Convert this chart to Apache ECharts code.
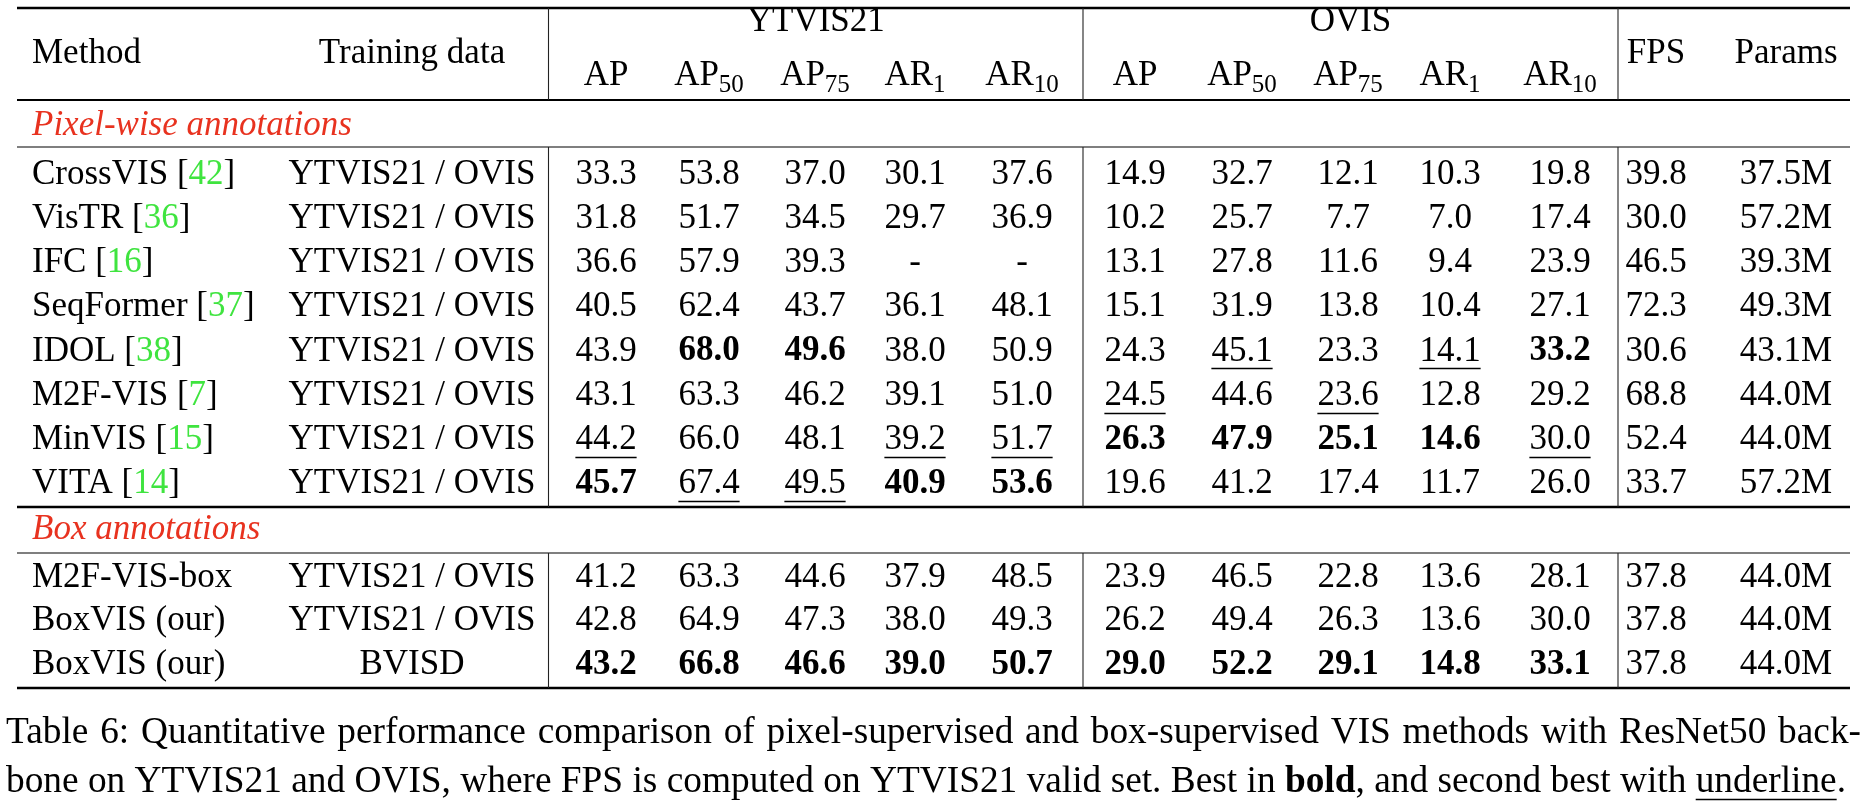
<!DOCTYPE html>
<html><head><meta charset="utf-8">
<script src="https://cdn.jsdelivr.net/npm/echarts@6/dist/echarts.min.js"></script>
<style>html,body{margin:0;padding:0;background:#fff}#c{width:1870px;height:808px}</style>
</head><body><div id="c"></div><script>
// ---------------- data ----------------
const methods = ['CrossVIS','VisTR','IFC','SeqFormer','IDOL','M2F-VIS','MinVIS','VITA','M2F-VIS-box','BoxVIS (our)','BoxVIS (our)'];
const citations = ['42','36','16','37','38','7','15','14',null,null,null];
const trainingData = ['YTVIS21 / OVIS','YTVIS21 / OVIS','YTVIS21 / OVIS','YTVIS21 / OVIS','YTVIS21 / OVIS','YTVIS21 / OVIS','YTVIS21 / OVIS','YTVIS21 / OVIS','YTVIS21 / OVIS','YTVIS21 / OVIS','BVISD'];
const groupTitles = ['Pixel-wise annotations','Box annotations'];
const groupRows = [[0,1,2,3,4,5,6,7],[8,9,10]];
const datasets = ['YTVIS21','OVIS'];
const metricLabels = [['AP',''],['AP','50'],['AP','75'],['AR','1'],['AR','10']];
const ytvisAP   = [33.3,31.8,36.6,40.5,43.9,43.1,44.2,45.7,41.2,42.8,43.2];
const ytvisAP50 = [53.8,51.7,57.9,62.4,68.0,63.3,66.0,67.4,63.3,64.9,66.8];
const ytvisAP75 = [37.0,34.5,39.3,43.7,49.6,46.2,48.1,49.5,44.6,47.3,46.6];
const ytvisAR1  = [30.1,29.7,null,36.1,38.0,39.1,39.2,40.9,37.9,38.0,39.0];
const ytvisAR10 = [37.6,36.9,null,48.1,50.9,51.0,51.7,53.6,48.5,49.3,50.7];
const ovisAP    = [14.9,10.2,13.1,15.1,24.3,24.5,26.3,19.6,23.9,26.2,29.0];
const ovisAP50  = [32.7,25.7,27.8,31.9,45.1,44.6,47.9,41.2,46.5,49.4,52.2];
const ovisAP75  = [12.1,7.7,11.6,13.8,23.3,23.6,25.1,17.4,22.8,26.3,29.1];
const ovisAR1   = [10.3,7.0,9.4,10.4,14.1,12.8,14.6,11.7,13.6,13.6,14.8];
const ovisAR10  = [19.8,17.4,23.9,27.1,33.2,29.2,30.0,26.0,28.1,30.0,33.1];
const fps       = [39.8,30.0,46.5,72.3,30.6,68.8,52.4,33.7,37.8,37.8,37.8];
const paramsM   = [37.5,57.2,39.3,49.3,43.1,44.0,44.0,57.2,44.0,44.0,44.0];
const boxBoldRow = 10; // BoxVIS trained on BVISD: marked bold in every metric
const captionLine1 = 'Table 6: Quantitative performance comparison of pixel-supervised and box-supervised VIS methods with ResNet50 back-';
const captionLine2 = 'bone on YTVIS21 and OVIS, where FPS is computed on YTVIS21 valid set. Best in **bold**, and second best with __underline__.';

// ---------------- layout ----------------
const FONT = "'Liberation Serif','Times New Roman',serif";
const FS = 35, SUBFS = 25;
const L = {
  blocks: [{top: 152.2, rowH: 44.25}, {top: 555.8, rowH: 43.5}],
  secY: [125.6, 529.5],
  left: 17, right: 1850,
  methodX: 32, trainX: 412,
  colX: [606,709,815,915,1022, 1135,1242,1348,1450,1560, 1656,1786],
  vlines: [548.5,1083,1618],
  topRule: 8, headRule: 100, secLine1: 147, thickMid: 507, secLine2: 553, bottom: 688,
  hdr1Y: 22, hdrMidY: 54, hdr2Y: 76,
  capY: [733,782], capLeft: 6, capRight1: 1861, capRight2: 1846
};
const GREEN = '#3fe43f', RED = '#e8321f';

const ctx = document.createElement('canvas').getContext('2d');
function tw(text, size, weight, style){ ctx.font = (style||'normal')+' '+(weight||'normal')+' '+size+'px '+FONT; return ctx.measureText(text).width; }

// emphasis: within pixel group best bold / second underline; box group: boxBoldRow bold
const metricCols = [ytvisAP,ytvisAP50,ytvisAP75,ytvisAR1,ytvisAR10,ovisAP,ovisAP50,ovisAP75,ovisAR1,ovisAR10];
function emphasis(col, i){
  if (groupRows[1].includes(i)) return i === boxBoldRow ? 'bold' : null;
  const vals = groupRows[0].map(r => col[r]).filter(v => v != null).sort((a,b)=>b-a);
  if (col[i] === vals[0]) return 'bold';
  if (col[i] === vals[1]) return 'under';
  return null;
}

// cells per group (each group = one grid, rows = category axis of methods)
const cellsByGroup = groupRows.map(rows => {
  const cells = [];
  rows.forEach((i, r) => {
    cells.push({x: L.methodX, row: r, text: citations[i] ? methods[i] + ' [{g|' + citations[i] + '}]' : methods[i], align: 'left'});
    cells.push({x: L.trainX, row: r, text: trainingData[i], align: 'center'});
    metricCols.forEach((col, c) => {
      const v = col[i];
      cells.push({x: L.colX[c], row: r, text: v == null ? '-' : v.toFixed(1), align: 'center', emph: v == null ? null : emphasis(col, i)});
    });
    cells.push({x: L.colX[10], row: r, text: fps[i].toFixed(1), align: 'center'});
    cells.push({x: L.colX[11], row: r, text: paramsM[i].toFixed(1) + 'M', align: 'center'});
  });
  return cells;
});

function makeRender(cells){
  return function(params, api){
    const c = cells[params.dataIndex];
    const p = api.coord([c.x, c.row]);
    const children = [{
      type: 'text', x: p[0], y: p[1],
      style: {
        text: c.text, fill: '#000', fontFamily: FONT, fontSize: FS,
        fontWeight: c.emph === 'bold' ? 'bold' : 'normal',
        align: c.align, verticalAlign: 'middle',
        rich: {g: {fill: GREEN, fontFamily: FONT, fontSize: FS}}
      }
    }];
    if (c.emph === 'under') {
      const w = tw(c.text, FS);
      const y = Math.round(p[1] + 17) + 0.5;
      children.push({type: 'line', shape: {x1: p[0] - w/2, y1: y, x2: p[0] + w/2, y2: y}, style: {stroke: '#000', lineWidth: 1.3}});
    }
    return {type: 'group', children};
  };
}

// ---------------- static graphics: rules, headers, section titles, caption ----------------
const G = [];
function hline(y, w){ G.push({type: 'line', silent: true, shape: {x1: L.left, y1: y, x2: L.right, y2: y}, style: {stroke: '#000', lineWidth: w}}); }
function vline(x, y1, y2){ G.push({type: 'line', silent: true, shape: {x1: x, y1: y1, x2: x, y2: y2}, style: {stroke: '#222', lineWidth: 1.1}}); }
function txt(x, y, text, opt){ opt = opt || {}; G.push({type: 'text', silent: true, x: x, y: y, style: {text: text, fill: opt.fill || '#000', fontFamily: FONT, fontSize: opt.size || FS, fontWeight: opt.weight || 'normal', fontStyle: opt.italic ? 'italic' : 'normal', align: opt.align || 'center', verticalAlign: 'middle'}}); }

hline(L.topRule, 2.6); hline(L.headRule, 2.2); hline(L.secLine1, 1.1); hline(L.thickMid, 2.6); hline(L.secLine2, 1.1); hline(L.bottom, 2.6);
L.vlines.forEach(x => { vline(x, L.topRule, L.headRule); vline(x, L.secLine1, L.thickMid); vline(x, L.secLine2, L.bottom); });

groupTitles.forEach((t, g) => txt(L.methodX, L.secY[g], t, {align: 'left', italic: true, fill: RED}));

txt(L.methodX, L.hdrMidY, 'Method', {align: 'left'});
txt(L.trainX, L.hdrMidY, 'Training data');
txt((L.vlines[0] + L.vlines[1]) / 2, L.hdr1Y, datasets[0]);
txt((L.vlines[1] + L.vlines[2]) / 2, L.hdr1Y, datasets[1]);
txt(L.colX[10], L.hdrMidY, 'FPS');
txt(L.colX[11], L.hdrMidY, 'Params');
for (let d = 0; d < 2; d++) {
  metricLabels.forEach((ml, k) => {
    const cx = L.colX[d*5 + k];
    const w1 = tw(ml[0], FS), w2 = ml[1] ? tw(ml[1], SUBFS) : 0;
    const x0 = cx - (w1 + w2) / 2;
    txt(x0, L.hdr2Y, ml[0], {align: 'left'});
    if (ml[1]) txt(x0 + w1, L.hdr2Y + 9, ml[1], {align: 'left', size: SUBFS});
  });
}

// caption, justified word by word
function parseWords(line){
  return line.split(' ').map(w => {
    const pieces = [];
    const re = /(\*\*[^*]+\*\*|__[^_]+__)/g;
    let last = 0, m;
    while ((m = re.exec(w))) {
      if (m.index > last) pieces.push({t: w.slice(last, m.index)});
      const s = m[0];
      if (s.startsWith('**')) pieces.push({t: s.slice(2, -2), b: true});
      else pieces.push({t: s.slice(2, -2), u: true});
      last = m.index + s.length;
    }
    if (last < w.length) pieces.push({t: w.slice(last)});
    return pieces;
  });
}
function wordWidth(pieces, s){ return pieces.reduce((a, p) => a + tw(p.t, s, p.b ? 'bold' : 'normal'), 0); }
const words1 = parseWords(captionLine1), words2 = parseWords(captionLine2);
const natural2 = words2.reduce((a, w) => a + wordWidth(w, 100), 0) + (words2.length - 1) * tw(' ', 100);
const CAPFS = 100 * (L.capRight2 - L.capLeft) / natural2;
function layLine(words, y, right){
  const ws = words.map(w => wordWidth(w, CAPFS));
  const gap = (right - L.capLeft - ws.reduce((a, b) => a + b, 0)) / (words.length - 1);
  let x = L.capLeft;
  words.forEach((w, i) => {
    let px = x;
    w.forEach(p => {
      const pw = tw(p.t, CAPFS, p.b ? 'bold' : 'normal');
      txt(px, y, p.t, {align: 'left', size: CAPFS, weight: p.b ? 'bold' : 'normal'});
      if (p.u) G.push({type: 'line', silent: true, shape: {x1: px, y1: y + 17.5, x2: px + pw, y2: y + 17.5}, style: {stroke: '#000', lineWidth: 1.3}});
      px += pw;
    });
    x += ws[i] + gap;
  });
}
layLine(words1, L.capY[0], L.capRight1);
layLine(words2, L.capY[1], L.capRight2);

// ---------------- chart ----------------
const chart = echarts.init(document.getElementById('c'), null, {renderer: 'canvas'});
chart.setOption({
  animation: false,
  backgroundColor: '#fff',
  grid: L.blocks.map((b, g) => ({left: 0, right: 0, top: b.top, height: groupRows[g].length * b.rowH, containLabel: false})),
  xAxis: L.blocks.map((b, g) => ({type: 'value', gridIndex: g, min: 0, max: 1870, show: false})),
  yAxis: L.blocks.map((b, g) => ({type: 'category', gridIndex: g, data: groupRows[g].map(i => methods[i] + '#' + i), inverse: true, show: false})),
  series: cellsByGroup.map((cells, g) => ({
    type: 'custom', silent: true, xAxisIndex: g, yAxisIndex: g,
    renderItem: makeRender(cells),
    encode: {x: 0, y: 1},
    data: cells.map(c => [c.x, c.row]),
    clip: false
  })),
  graphic: {elements: G}
});
</script></body></html>
